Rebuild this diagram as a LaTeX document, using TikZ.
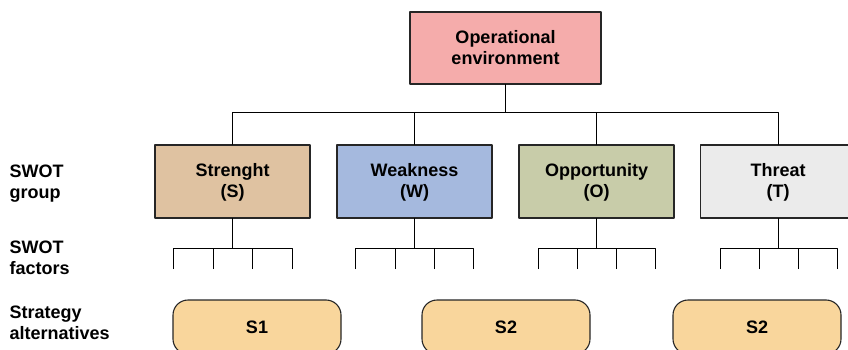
\documentclass[tikz,border=0pt]{standalone}
\usepackage{fontspec}
\setmainfont{Liberation Sans}
\usepackage{tikz}
\usetikzlibrary{positioning}

\definecolor{envpink}{HTML}{F5ACAB}
\definecolor{strtan}{HTML}{DFC2A1}
\definecolor{weakblue}{HTML}{A5B9DE}
\definecolor{oppgreen}{HTML}{C8CCA9}
\definecolor{thrgrey}{HTML}{EBEBEB}
\definecolor{altorange}{HTML}{F9D69C}

\tikzset{
  lbl/.style={font=\bfseries\fontsize{18}{21}\selectfont, align=center},
  envbox/.style={lbl, draw=black!85, line width=1.1pt, fill=envpink, minimum width=191pt, minimum height=72pt},
  groupbox/.style={lbl, draw=black!85, line width=1.1pt, minimum width=155pt, minimum height=73pt},
  altbox/.style={lbl, draw=black!85, line width=1.1pt, fill=altorange, rounded corners=15pt, minimum width=168pt, minimum height=54pt},
  rowlbl/.style={lbl, align=left, anchor=west}
}

\begin{document}
\begin{tikzpicture}[line cap=round,line join=round,x=1pt,y=-1pt]
\useasboundingbox (0,0) rectangle (848,350);
\clip (0,0) rectangle (848,350);
% top level
\node[envbox] (env) at (505.5,48) {Operational\\environment};
% SWOT groups
\node[groupbox, fill=strtan] (str) at (232.5,181.5) {\strut Strenght\\(S)};
\node[groupbox, fill=weakblue] (wea) at (414.5,181.5) {\strut Weakness\\(W)};
\node[groupbox, fill=oppgreen] (opp) at (596.5,181.5) {\strut Opportunity\\(O)};
\node[groupbox, fill=thrgrey] (thr) at (778,181.5) {\strut Threat\\(T)};
% strategy alternatives
\node[altbox] (alt1) at (257,327) {S1};
\node[altbox] (alt2) at (506,327) {S2};
\node[altbox] (alt3) at (757,327) {S2};
% row labels
\node[rowlbl] (rowgrp) at (6,184) {SWOT\\group};
\node[rowlbl] (rowfac) at (6,258) {SWOT\\factors};
\node[rowlbl] (rowalt) at (6,323) {Strategy\\alternatives};
% tree
\draw [line width=0.9pt] (env.south) -- ++(0,28) -| (str.north);
\draw [line width=0.9pt] (env.south) -- ++(0,28) -| (wea.north);
\draw [line width=0.9pt] (env.south) -- ++(0,28) -| (opp.north);
\draw [line width=0.9pt] (env.south) -- ++(0,28) -| (thr.north);
% factors
\draw [line width=0.9pt] (str.south) -- ++(0,30) -| ++(-59,20);
\draw [line width=0.9pt] (str.south) -- ++(0,30) -| ++(-19.5,20);
\draw [line width=0.9pt] (str.south) -- ++(0,30) -| ++(20,20);
\draw [line width=0.9pt] (str.south) -- ++(0,30) -| ++(60,20);
\draw [line width=0.9pt] (wea.south) -- ++(0,30) -| ++(-59,20);
\draw [line width=0.9pt] (wea.south) -- ++(0,30) -| ++(-19.5,20);
\draw [line width=0.9pt] (wea.south) -- ++(0,30) -| ++(20,20);
\draw [line width=0.9pt] (wea.south) -- ++(0,30) -| ++(59,20);
\draw [line width=0.9pt] (opp.south) -- ++(0,30) -| ++(-58.5,20);
\draw [line width=0.9pt] (opp.south) -- ++(0,30) -| ++(-19.5,20);
\draw [line width=0.9pt] (opp.south) -- ++(0,30) -| ++(19.5,20);
\draw [line width=0.9pt] (opp.south) -- ++(0,30) -| ++(58.5,20);
\draw [line width=0.9pt] (thr.south) -- ++(0,30) -| ++(-58,20);
\draw [line width=0.9pt] (thr.south) -- ++(0,30) -| ++(-19,20);
\draw [line width=0.9pt] (thr.south) -- ++(0,30) -| ++(20,20);
\draw [line width=0.9pt] (thr.south) -- ++(0,30) -| ++(59,20);
\end{tikzpicture}
\end{document}
